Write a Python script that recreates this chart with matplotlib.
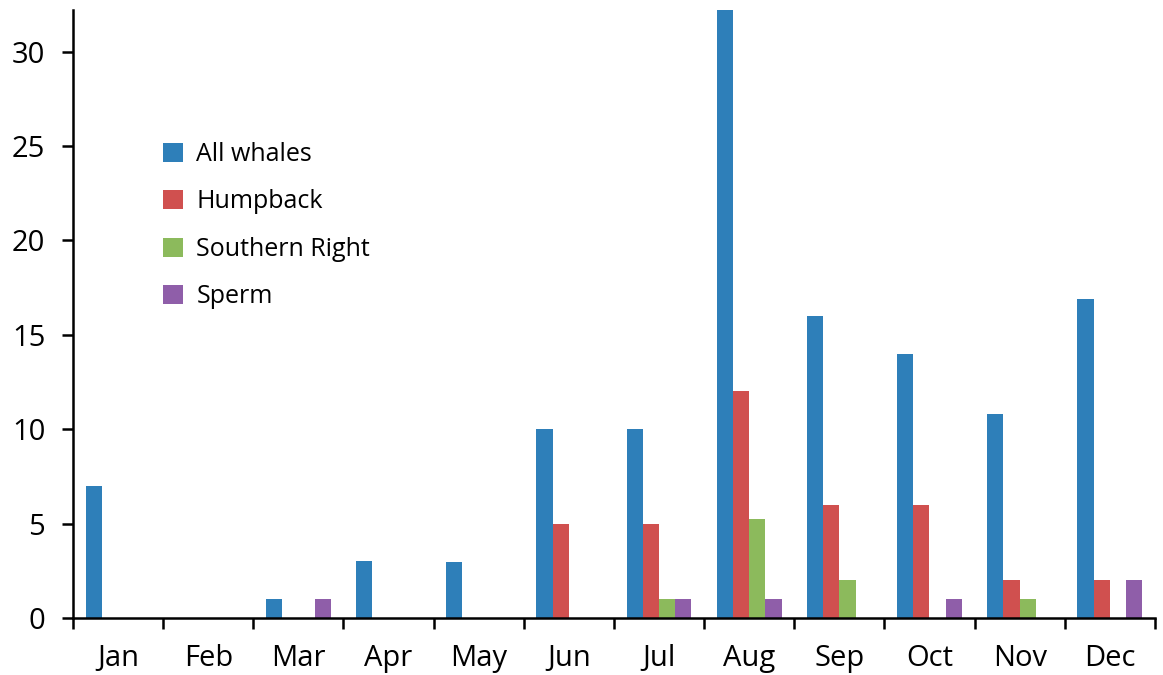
import matplotlib.pyplot as plt
import numpy as np

plt.rcParams['font.family'] = ['Open Sans', 'DejaVu Sans']

months = ['Jan', 'Feb', 'Mar', 'Apr', 'May', 'Jun',
          'Jul', 'Aug', 'Sep', 'Oct', 'Nov', 'Dec']
all_whales = [7, 0, 1, 3, 2.95, 10, 10, 32.5, 16, 14, 10.8, 16.9]
humpback = [0, 0, 0, 0, 0, 5, 5, 12, 6, 6, 2, 2]
southern_right = [0, 0, 0, 0, 0, 0, 1, 5.25, 2, 0, 1, 0]
sperm = [0, 0, 1, 0, 0, 0, 1, 1, 0, 1, 0, 2]

series = [
    ('All whales', all_whales, '#2e7fb9'),
    ('Humpback', humpback, '#d0504f'),
    ('Southern Right', southern_right, '#8cba5c'),
    ('Sperm', sperm, '#8f5ea9'),
]

fig = plt.figure(figsize=(11.63, 6.75), dpi=100)
ax = fig.add_axes([0.0628, 0.0844, 0.9302, 0.9008])

x = np.arange(len(months))
w = 0.18
for i, (name, vals, color) in enumerate(series):
    ax.bar(x + (i - 1.5) * w, vals, width=w, color=color, label=name,
           linewidth=0)

ax.set_xlim(-0.5, len(months) - 0.5)
ax.set_ylim(0, 32.2)

for side in ['top', 'right']:
    ax.spines[side].set_visible(False)
for side in ['left', 'bottom']:
    ax.spines[side].set_linewidth(1.8)

# month labels at centers, tick marks at the boundaries
ax.set_xticks(x)
ax.set_xticklabels(months)
ax.set_xticks(np.arange(-0.5, len(months)), minor=True)
ax.tick_params(axis='x', which='major', length=0, pad=19, labelsize=21)
ax.tick_params(axis='x', which='minor', length=8, width=1.8, direction='out')

ax.set_yticks([0, 5, 10, 15, 20, 25, 30])
ax.tick_params(axis='y', length=8, width=1.8, direction='out', pad=12,
               labelsize=21)

leg = ax.legend(loc='upper left', bbox_to_anchor=(0.062, 0.82), frameon=False,
                fontsize=18, handlelength=0.8, handleheight=0.8,
                handletextpad=0.55, labelspacing=0.9)

fig.savefig('out.png', dpi=100)
